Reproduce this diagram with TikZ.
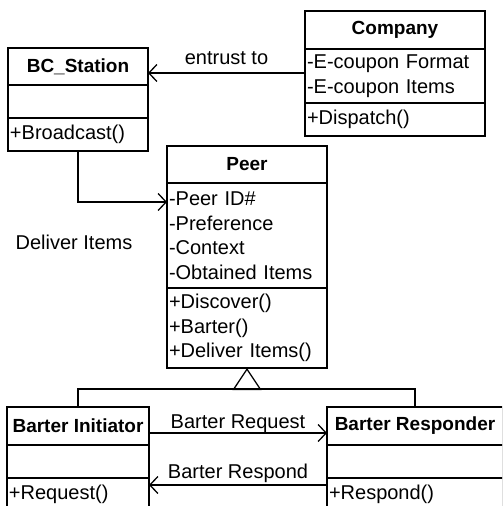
\documentclass[tikz,border=0pt]{standalone}
\usepackage{fontspec}
\setmainfont{Liberation Sans}
\usetikzlibrary{positioning,calc,arrows.meta}

\begin{document}
\begin{tikzpicture}[x=.5pt,y=-.5pt,line width=.65pt,font=\fontsize{10}{12.25}\selectfont]
    \tikzstyle{box} = [draw,inner xsep=1pt,inner ysep=0pt,outer sep=0pt]
    \tikzstyle{head} = [box,anchor=north west,align=center,font=\fontsize{9.5}{11.5}\selectfont\bfseries]
    \tikzstyle{part} = [box,align=left]
    \tikzstyle{lbl} = [inner sep=1pt]
    \tikzstyle{isa} = [-{Triangle[open,length=11pt,width=14.5pt]}]
    \tikzset{>={Straight Barb[length=4pt,width=8.5pt]}}

    \useasboundingbox (0,0) rectangle (502,506);
    \clip (0,0) rectangle (502,506);

    % classes
    \node [head,minimum width=70pt,minimum height=18.5pt] (bchead) at (8,48) {BC\_Station};
    \node [part,text width=68pt,minimum height=16.5pt,below=0pt of bchead] (bcattr) {};
    \node [part,text width=68pt,minimum height=16.5pt,below=0pt of bcattr] (bcmeth) {+Broadcast()};

    \node [head,minimum width=90pt,minimum height=19pt] (comphead) at (305,11) {Company};
    \node [part,text width=88pt,minimum height=27pt,below=0pt of comphead] (compattr) {-E-coupon Format\\-E-coupon Items};
    \node [part,text width=88pt,minimum height=16.5pt,below=0pt of compattr] (compmeth) {+Dispatch()};

    \node [head,minimum width=80pt,minimum height=18.5pt] (peerhead) at (167,146) {Peer};
    \node [part,text width=78pt,minimum height=52.5pt,below=0pt of peerhead] (peerattr) {-Peer ID\#\\-Preference\\-Context\\-Obtained Items};
    \node [part,text width=78pt,minimum height=40pt,below=0pt of peerattr] (peermeth) {+Discover()\\+Barter()\\+Deliver Items()};

    \node [head,minimum width=71pt,minimum height=19pt] (inithead) at (7,407) {Barter Initiator};
    \node [part,text width=69pt,minimum height=16.5pt,below=0pt of inithead] (initattr) {};
    \node [part,text width=69pt,minimum height=16.5pt,below=0pt of initattr] (initmeth) {+Request()};

    \node [head,minimum width=88pt,minimum height=19pt] (resphead) at (327,407) {Barter Responder};
    \node [part,text width=86pt,minimum height=16.5pt,below=0pt of resphead] (respattr) {};
    \node [part,text width=86pt,minimum height=16.5pt,below=0pt of respattr] (respmeth) {+Respond()};

    % associations
    \coordinate (entrustend) at ($(compattr.north west)+(0,24)$);
    \draw [->] (entrustend) -- node [lbl,above,yshift=3pt] (entrust) {entrust to} (entrustend -| bchead.east);

    \coordinate (delivend) at ($(peerattr.north west)+(0,19)$);
    \draw [->] (bcmeth.south) |- (delivend);
    \node [lbl] (deliver) at (74,242) {Deliver Items};

    \draw [->] ($(inithead.east)+(0,7)$) -- node [lbl,above,yshift=-1pt] (request) {Barter Request} ($(resphead.west)+(0,7)$);
    \draw [->] ($(respmeth.north west)+(0,7)$) -- node [lbl,above] (respond) {Barter Respond} ($(initmeth.north east)+(0,7)$);

    % generalisation
    \coordinate (fork) at ($(peermeth.south)+(0,21)$);
    \draw (inithead.north) |- (fork) -| (resphead.north);
    \draw [isa] (fork) -- (peermeth.south);

\end{tikzpicture}
\end{document}
